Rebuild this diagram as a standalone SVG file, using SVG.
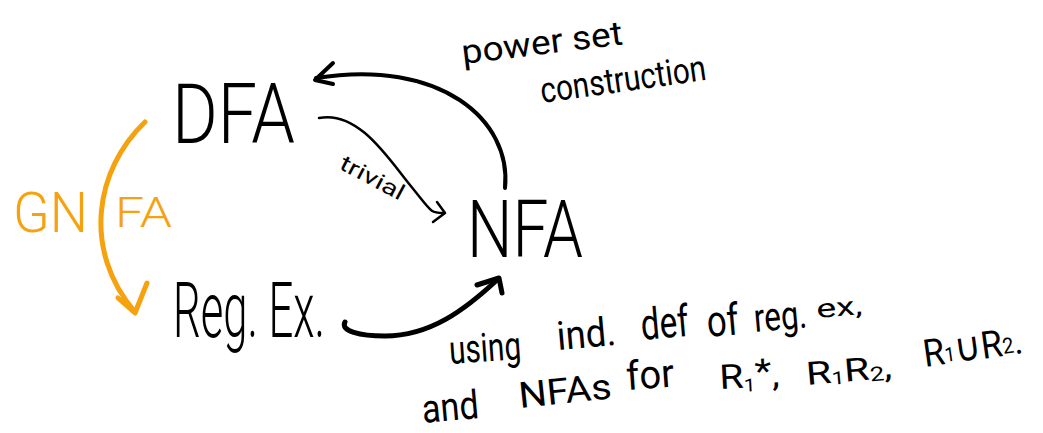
<svg xmlns="http://www.w3.org/2000/svg" width="1043" height="433" viewBox="0 0 1043 433">
  <style>
    text { font-family: Roboto, "Liberation Sans", "DejaVu Sans", sans-serif; font-weight: 300; fill: #000; }
    .note { font-weight: 400; }
    .orange { fill: #f6a20f; }
    .sym { font-family: "DejaVu Sans", sans-serif; font-weight: 400; }
    .edge { fill: none; stroke: #000; stroke-linecap: round; stroke-linejoin: round; }
    .edge.thick { stroke-width: 5; }
    .edge.mid { stroke-width: 4; }
    .edge.thin { stroke-width: 2.5; }
    .edge.amber { stroke: #f6a20f; stroke-width: 5; }
  </style>
  <rect width="1043" height="433" fill="#fff"/>

  <!-- automaton kinds -->
  <g id="node-dfa">
    <text x="172" y="143" font-size="84" textLength="123" lengthAdjust="spacingAndGlyphs">DFA</text>
  </g>
  <g id="node-nfa">
    <text x="467" y="257" font-size="80" textLength="116" lengthAdjust="spacingAndGlyphs">NFA</text>
  </g>
  <g id="node-regex">
    <text x="173" y="337" font-size="77" textLength="152" lengthAdjust="spacingAndGlyphs">Reg. Ex.</text>
  </g>

  <!-- conversions between them -->
  <g id="connectors">
    <!-- DFA to regular expression via generalized NFA -->
    <path class="edge amber" d="M145,122 C95,170 82,250 135,312"/>
    <polyline class="edge amber" points="118,298 135,313 147,283"/>
    <!-- NFA back to DFA (subset construction) -->
    <path class="edge mid" d="M505,188 C512,120 440,58 316,78"/>
    <polyline class="edge mid" points="333,63 315,80 333,84"/>
    <!-- DFA is already an NFA -->
    <path class="edge thin" d="M319,118 C358,110 388,158 410,185 S430,213 443,213"/>
    <polyline class="edge thin" points="437,202 445,213 433,222"/>
    <!-- regular expression to NFA -->
    <path class="edge thick" d="M345,322 C340,331 360,336 385,336 C430,336 465,310 498,279"/>
    <polyline class="edge thick" points="477,285 499,278 502,293"/>
  </g>

  <!-- edge labels -->
  <g id="label-gnfa">
    <text class="orange" x="13" y="232" font-size="56" textLength="75" lengthAdjust="spacingAndGlyphs">GN</text>
    <text class="orange" x="115" y="227" font-size="42" textLength="57" lengthAdjust="spacingAndGlyphs">FA</text>
  </g>
  <g id="label-trivial">
    <text class="note" x="338" y="168" font-size="22" textLength="70" lengthAdjust="spacingAndGlyphs" transform="rotate(28 338 168)">trivial</text>
  </g>
  <g id="label-powerset">
    <text class="note" x="463" y="64" font-size="34" textLength="162" lengthAdjust="spacingAndGlyphs" transform="rotate(-7 463 64)">power set</text>
    <text class="note" x="542" y="103" font-size="36" textLength="167" lengthAdjust="spacingAndGlyphs" transform="rotate(-8 542 103)">construction</text>
  </g>
  <g id="label-inductive">
    <text class="note" x="450" y="364" font-size="40" textLength="72" lengthAdjust="spacingAndGlyphs" transform="rotate(-4 450 364)">using</text>
    <text class="note" x="558" y="350" font-size="40" textLength="59" lengthAdjust="spacingAndGlyphs" transform="rotate(-5 558 350)">ind.</text>
    <text class="note" x="642" y="340" font-size="44" textLength="48" lengthAdjust="spacingAndGlyphs" transform="rotate(-5 642 340)">def</text>
    <text class="note" x="708" y="337" font-size="44" textLength="32" lengthAdjust="spacingAndGlyphs" transform="rotate(-5 708 337)">of</text>
    <text class="note" x="755" y="332" font-size="40" textLength="53" lengthAdjust="spacingAndGlyphs" transform="rotate(-5 755 332)">reg.</text>
    <text class="note" x="817" y="318" font-size="26" textLength="46" lengthAdjust="spacingAndGlyphs" transform="rotate(-5 817 318)">ex,</text>

    <text class="note" x="423" y="423" font-size="40" textLength="57" lengthAdjust="spacingAndGlyphs" transform="rotate(-5 423 423)">and</text>
    <text class="note" x="520" y="408" font-size="36" textLength="93" lengthAdjust="spacingAndGlyphs" transform="rotate(-6 520 408)">NFAs</text>
    <text class="note" x="627" y="390" font-size="40" textLength="48" lengthAdjust="spacingAndGlyphs" transform="rotate(-4 627 390)">for</text>
    <text class="note" x="720" y="389" font-size="34" textLength="60" lengthAdjust="spacingAndGlyphs" transform="rotate(-3 720 389)">R<tspan font-size="18" dy="4">1</tspan><tspan font-size="34" dy="-8">*</tspan><tspan dy="4">,</tspan></text>
    <text class="note" x="807" y="385" font-size="32" textLength="86" lengthAdjust="spacingAndGlyphs" transform="rotate(-5 807 385)">R<tspan font-size="18" dy="2">1</tspan><tspan dy="-2">R</tspan><tspan font-size="20" dy="2">2</tspan><tspan dy="-2">,</tspan></text>
    <text class="note" x="925" y="367" font-size="38" textLength="100" lengthAdjust="spacingAndGlyphs" transform="rotate(-8 925 367)">R<tspan font-size="20" dy="-2">1</tspan><tspan class="sym" font-size="40" dy="2">∪</tspan><tspan>R</tspan><tspan font-size="22" dy="-2">2</tspan><tspan dy="2">.</tspan></text>
  </g>
</svg>
